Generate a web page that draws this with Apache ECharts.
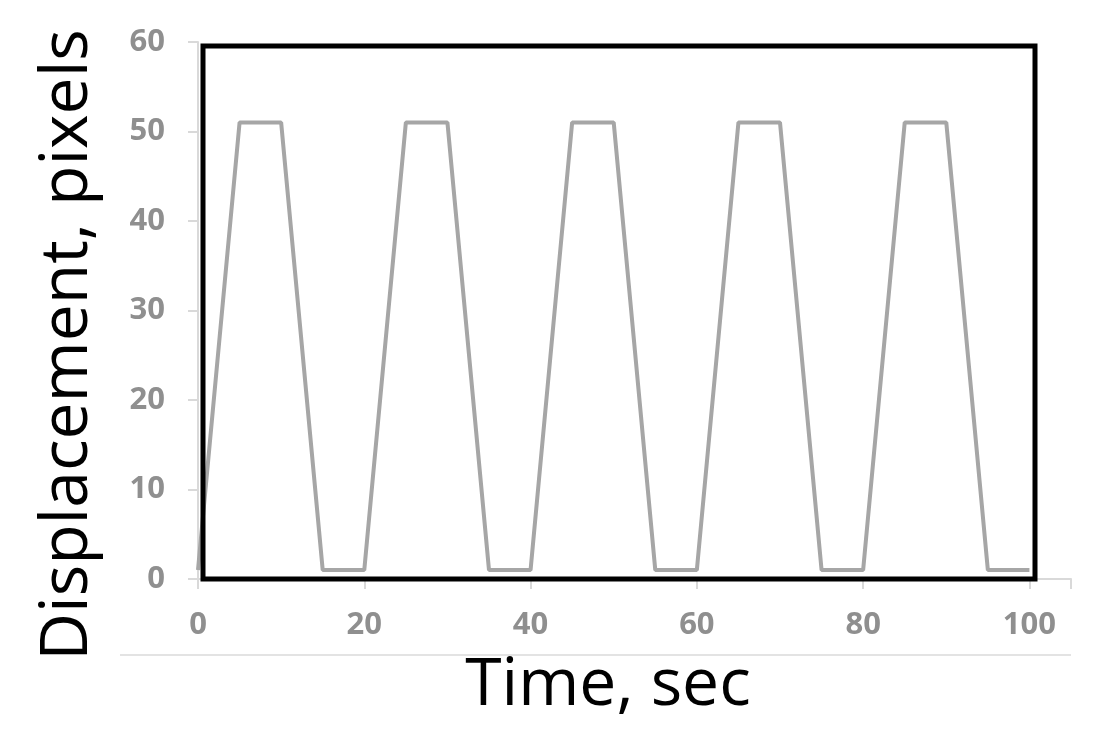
<!DOCTYPE html>
<html>
<head>
<meta charset="UTF-8">
<script src="https://cdn.jsdelivr.net/npm/echarts@6/dist/echarts.min.js"></script>
<style>
  html, body { margin: 0; padding: 0; background: #fff; }
  #chart { width: 1102px; height: 746px; }
</style>
</head>
<body>
<div id="chart"></div>
<script>
// time (sec) and displacement (pixels) at the corners of the trapezoid wave
const timeSec = [0, 5, 10, 15, 20, 25, 30, 35, 40, 45, 50, 55, 60, 65, 70, 75, 80, 85, 90, 95, 100];
const displacement = [1, 51, 51, 1, 1, 51, 51, 1, 1, 51, 51, 1, 1, 51, 51, 1, 1, 51, 51, 1, 1];
const xTicks = [0, 20, 40, 60, 80, 100];
const yTicks = [0, 10, 20, 30, 40, 50, 60];

const chart = echarts.init(document.getElementById('chart'));
const gray = '#d9d9d9';
const labelStyle = { color: '#8f8f8f', fontSize: 31, fontWeight: 'bold', fontFamily: 'Open Sans' };

chart.setOption({
  animation: false,
  grid: { left: 198, right: 31, top: 42, bottom: 167 },
  xAxis: {
    type: 'value', min: 0, max: 105, interval: 20,
    axisLine: { lineStyle: { color: gray, width: 2 } },
    axisTick: { show: true, length: 10, lineStyle: { color: gray, width: 2 } },
    splitLine: { show: false },
    axisLabel: Object.assign({ margin: 31, formatter: v => xTicks.includes(v) ? v : '' }, labelStyle)
  },
  yAxis: {
    type: 'value', min: 0, max: 60, interval: 10,
    axisLine: { show: true, lineStyle: { color: gray, width: 2 } },
    axisTick: { show: true, length: 10, lineStyle: { color: gray, width: 2 } },
    splitLine: { show: false },
    axisLabel: Object.assign({ margin: 33, formatter: v => yTicks.includes(v) ? v : '' }, labelStyle)
  },
  series: [{
    type: 'line',
    data: timeSec.map((t, i) => [t, displacement[i]]),
    showSymbol: false,
    lineStyle: { color: '#a6a6a6', width: 4 },
    z: 3
  }],
  graphic: [
    { type: 'rect', shape: { x: 203, y: 46, width: 832, height: 533 },
      style: { fill: 'none', stroke: '#000', lineWidth: 5 }, z: 10 },
    { type: 'line', shape: { x1: 120, y1: 655, x2: 1071, y2: 655 },
      style: { stroke: '#e3e3e3', lineWidth: 2 } },
    { type: 'text', x: 608, y: 686,
      style: { text: 'Time, sec', fontSize: 66, fontFamily: 'Open Sans', fill: '#000',
               align: 'center', verticalAlign: 'middle' } },
    { type: 'text', x: 68, y: 345, rotation: Math.PI / 2,
      style: { text: 'Displacement, pixels', fontSize: 66, fontFamily: 'Open Sans', fill: '#000',
               align: 'center', verticalAlign: 'middle' } }
  ]
});
</script>
</body>
</html>
